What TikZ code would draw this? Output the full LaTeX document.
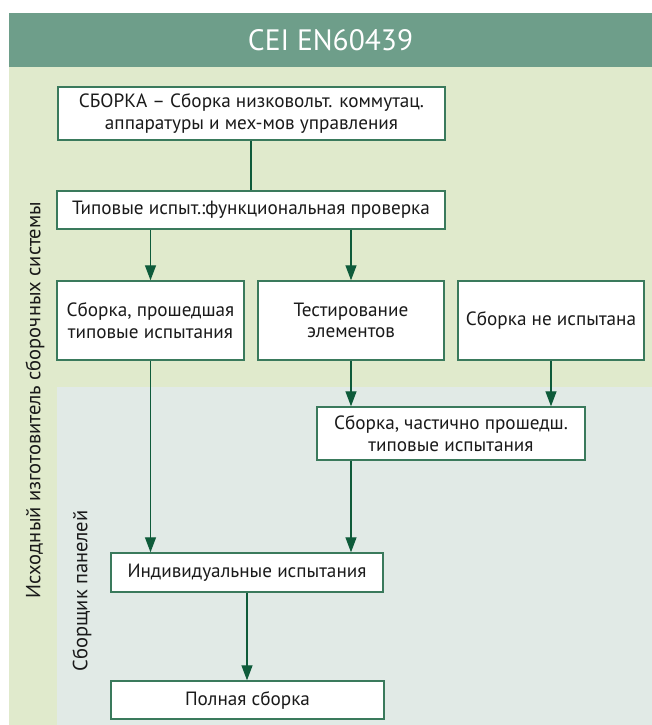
\documentclass[tikz,border=0pt]{standalone}
\usepackage{fontspec}
\setmainfont{PT Sans}
\usetikzlibrary{arrows.meta}
\definecolor{hdr}{HTML}{6E9E8A}
\definecolor{lgreen}{HTML}{E0EACC}
\definecolor{lgrey}{HTML}{E1EAE6}
\definecolor{bord}{HTML}{3A7A5C}
\definecolor{arrc}{HTML}{0E5B3A}
\definecolor{txt}{HTML}{1A1A1A}
\tikzset{
  box/.style={draw=bord, line width=1.4pt, fill=white, inner sep=0pt, align=center,
    text=txt, font=\fontsize{19.2}{21.5}\selectfont},
  conn/.style={draw=arrc, line width=1.3pt},
  arr/.style={conn, -{Triangle[width=11pt,length=15pt]}},
  side/.style={text=txt, font=\fontsize{20.5}{22}\selectfont, rotate=90}
}
\begin{document}
\begin{tikzpicture}[x=1pt,y=-1pt]
\useasboundingbox (0,0) rectangle (652,725);
\fill[white] (0,0) rectangle (652,725);
\fill[lgreen] (9,67) rectangle (652,725);
\fill[lgrey] (57,387) rectangle (652,725);
\fill[hdr] (9,13) rectangle (652,67);
\node[text=white, font=\fontsize{29.5}{32}\selectfont] (title) at (330.5,40) {CEI EN60439};

\node[side] (lab1) at (35,400) {Исходный изготовитель сборочных системы};
\node[side] (lab2) at (82,591) {Сборщик панелей};

\node[box, minimum width=387pt, minimum height=53pt] (b1) at (251.5,113.5)
  {СБОРКА – Сборка низковольт. коммутац.\\аппаратуры и мех-мов управления};
\node[box, minimum width=388pt, minimum height=38pt] (b2) at (251,210)
  {Типовые испыт.:функциональная проверка};
\node[box, minimum width=187pt, minimum height=79pt] (ba) at (150.5,320.5)
  {Сборка, прошедшая\\типовые испытания};
\node[box, minimum width=186pt, minimum height=79pt] (bb) at (351,320.5)
  {Тестирование\\элементов};
\node[box, minimum width=186pt, minimum height=79pt] (bc) at (551,320.5)
  {Сборка не испытана};
\node[box, minimum width=268pt, minimum height=53pt] (bp) at (451,433.5)
  {Сборка, частично прошедш.\\типовые испытания};
\node[box, minimum width=272pt, minimum height=39pt] (bi) at (247,572.5)
  {Индивидуальные испытания};
\node[box, minimum width=273pt, minimum height=38pt] (bf) at (247.5,700)
  {Полная сборка};

\draw[conn] (b1.south -| b2.north) -- (b2.north);
\draw[arr] (b2.south -| ba.north) -- (ba.north);
\draw[arr] (b2.south -| bb.north) -- (bb.north);
\draw[arr] (bb.south) -- (bp.north -| bb.south);
\draw[arr] (bc.south) -- (bp.north -| bc.south);
\draw[arr] (ba.south) -- (bi.north -| ba.south);
\draw[arr] (bp.south -| bb.south) -- (bi.north -| bb.south);
\draw[arr] (bi.south) -- (bf.north -| bi.south);
\end{tikzpicture}
\end{document}
